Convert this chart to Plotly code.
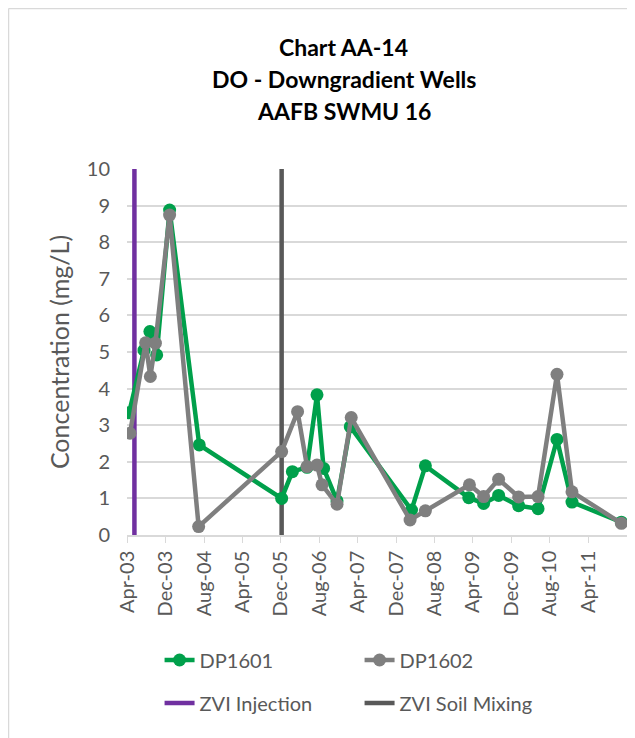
import plotly.graph_objects as go

# DP1601 (green)
dp1601_dates = ["2003-04-14", "2003-07-18", "2003-08-24", "2003-10-06", "2003-12-27",
                "2004-07-02", "2005-12-06", "2006-02-12", "2006-05-16", "2006-07-18",
                "2006-08-29", "2006-11-22", "2007-02-14", "2008-03-08", "2008-06-04",
                "2009-03-06", "2009-06-08", "2009-09-11", "2010-01-16", "2010-05-19",
                "2010-09-16", "2010-12-20", "2011-10-29"]
dp1601_do = [3.34, 5.05, 5.56, 4.92, 8.88,
             2.46, 1.00, 1.73, 1.85, 3.83,
             1.82, 0.93, 2.96, 0.68, 1.89,
             1.02, 0.86, 1.08, 0.80, 0.72,
             2.61, 0.90, 0.35]

# DP1602 (gray)
dp1602_dates = ["2003-04-20", "2003-07-28", "2003-08-27", "2003-09-28", "2003-12-27",
                "2004-06-28", "2005-12-06", "2006-03-17", "2006-05-16", "2006-07-18",
                "2006-08-19", "2006-11-22", "2007-02-20", "2008-02-28", "2008-06-04",
                "2009-03-10", "2009-06-08", "2009-09-11", "2010-01-16", "2010-05-19",
                "2010-09-16", "2010-12-20", "2011-10-29"]
dp1602_do = [2.78, 5.25, 4.33, 5.24, 8.74,
             0.23, 2.28, 3.37, 1.87, 1.91,
             1.37, 0.84, 3.21, 0.41, 0.66,
             1.37, 1.05, 1.52, 1.04, 1.05,
             4.39, 1.18, 0.32]

# treatment events (vertical markers)
zvi_injection_date = "2003-05-18"
zvi_mixing_date = "2005-12-06"
event_span = [0, 10]

tick_dates = ["2003-04-01", "2003-12-01", "2004-08-01", "2005-04-01", "2005-12-01",
              "2006-08-01", "2007-04-01", "2007-12-01", "2008-08-01", "2009-04-01",
              "2009-12-01", "2010-08-01", "2011-04-01"]
tick_labels = ["Apr-03", "Dec-03", "Aug-04", "Apr-05", "Dec-05", "Aug-06", "Apr-07",
               "Dec-07", "Aug-08", "Apr-09", "Dec-09", "Aug-10", "Apr-11"]

title_lines = ["Chart AA-14", "DO - Downgradient Wells", "AAFB SWMU 16"]

GREEN = "#00A04B"
GRAY = "#7F7F7F"
PURPLE = "#7030A0"
DARK = "#595959"
FONT = "Lato"

# page body adds an 8px offset, so the figure is drawn 8px smaller
PLOT_H = 366.0
PLOT_W = 501.0

fig = go.Figure()

fig.add_trace(go.Scatter(
    x=[zvi_injection_date] * 2, y=event_span, name="ZVI Injection", mode="lines",
    line=dict(color=PURPLE, width=4.5), legend="legend2"))
fig.add_trace(go.Scatter(
    x=[zvi_mixing_date] * 2, y=event_span, name="ZVI Soil Mixing", mode="lines",
    line=dict(color=DARK, width=4.5), legend="legend2"))
fig.add_trace(go.Scatter(
    x=dp1601_dates, y=dp1601_do, name="DP1601", mode="lines+markers",
    line=dict(color=GREEN, width=4.5), marker=dict(size=13, color=GREEN),
    legend="legend"))
fig.add_trace(go.Scatter(
    x=dp1602_dates, y=dp1602_do, name="DP1602", mode="lines+markers",
    line=dict(color=GRAY, width=4.5), marker=dict(size=13, color=GRAY),
    legend="legend"))

for i, line in enumerate(title_lines):
    fig.add_annotation(
        text="<b>%s</b>" % line, xref="paper", yref="paper",
        x=0.433, y=1.0 + (169 - 47 - 32 * i) / PLOT_H,
        xanchor="center", yanchor="middle", showarrow=False,
        font=dict(family=FONT, size=23, color="#000000"))

# chart area border (left and top edges visible)
fig.add_shape(type="line", xref="paper", yref="paper",
              x0=(8.5 - 127) / PLOT_W, x1=(700 - 127) / PLOT_W,
              y0=(535 - 8.5) / PLOT_H, y1=(535 - 8.5) / PLOT_H,
              line=dict(color="#D9D9D9", width=1.5))
fig.add_shape(type="line", xref="paper", yref="paper",
              x0=(8.5 - 127) / PLOT_W, x1=(8.5 - 127) / PLOT_W,
              y0=(535 - 8.5) / PLOT_H, y1=(535 - 800) / PLOT_H,
              line=dict(color="#D9D9D9", width=1.5))

legend_common = dict(
    orientation="h", xanchor="left", yanchor="middle",
    font=dict(family=FONT, size=20, color=DARK), traceorder="normal",
    bgcolor="rgba(0,0,0,0)", entrywidth=155, entrywidthmode="pixels")

fig.update_layout(
    width=627, height=730,
    margin=dict(l=119, r=7, t=161, b=203, autoexpand=False),
    paper_bgcolor="white", plot_bgcolor="white",
    font=dict(family=FONT, color=DARK),
    legend=dict(x=0.065, y=(535 - 660) / PLOT_H, **legend_common),
    legend2=dict(x=0.065, y=(535 - 703) / PLOT_H, **legend_common),
    xaxis=dict(
        type="date", range=["2003-04-01", "2011-12-10"],
        tickvals=tick_dates, ticktext=tick_labels, tickangle=-90,
        showgrid=False, showline=True, linecolor="#D9D9D9", linewidth=1.5,
        ticks="outside", ticklen=6, tickcolor="#D9D9D9",
        tickfont=dict(family=FONT, size=20, color=DARK)),
    yaxis=dict(
        range=[0, 10], dtick=1, showgrid=True, gridcolor="#D9D9D9", gridwidth=1.5,
        zeroline=False, showline=False, ticks="", ticklabelstandoff=16,
        tickfont=dict(family=FONT, size=20, color=DARK),
        title=dict(text="Concentration (mg/L)", standoff=10,
                   font=dict(family=FONT, size=25, color=DARK))),
)

fig.write_html("out.html")
